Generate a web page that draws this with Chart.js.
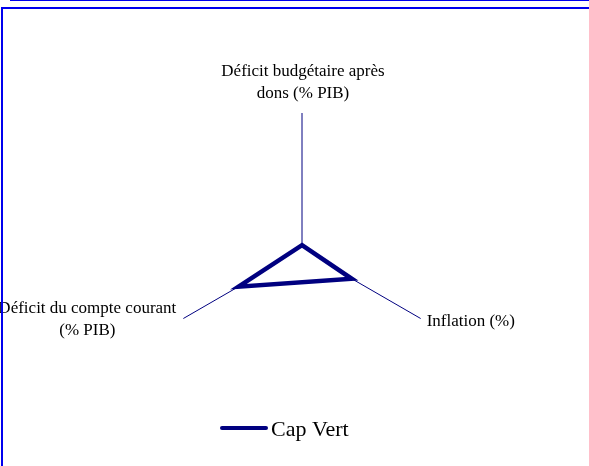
<!DOCTYPE html>
<html>
<head>
<meta charset="utf-8">
<script src="https://cdn.jsdelivr.net/npm/chart.js@4.4.1/dist/chart.umd.min.js"></script>
<style>
  html, body { margin: 0; padding: 0; background: #fff; overflow: hidden; }
  #wrap { position: relative; width: 589px; height: 466px; overflow: hidden; }
  #chart { position: absolute; left: 0; top: 0; }
  #topRule { position: absolute; left: 10px; top: 0; width: 600px; height: 1px; background: #0000ee; }
  #frame { position: absolute; left: 1px; top: 7px; width: 700px; height: 600px;
           border-left: 2px solid #0000ee; border-top: 2px solid #0000ee; pointer-events: none; }
</style>
</head>
<body>
<div id="wrap">
  <canvas id="chart" width="589" height="466"></canvas>
  <div id="topRule"></div>
  <div id="frame"></div>
</div>
<script>
// axes of the radar, clockwise from the top
const axisLabels = [
  ['Déficit budgétaire après', 'dons (% PIB)'],
  ['Inflation (%)'],
  ['Déficit du compte courant', '(% PIB)']
]
const seriesName = 'Cap Vert'
const capVert = [0.7, 8.4, 10.7]
const scaleMin = 0
const scaleMax = 20

const navy = '#000080'
const serif = '"Liberation Serif", "Times New Roman", serif'

// axis titles + legend drawn by hand, Excel style
const textPlugin = {
  id: 'excelText',
  afterDatasetsDraw(chart) {
    const ctx = chart.ctx
    const r = chart.scales.r
    ctx.save()
    ctx.fillStyle = '#000'
    ctx.font = '17px ' + serif
    chart.data.labels.forEach((lines, i) => {
      const p = r.getPointPosition(i, r.drawingArea)
      let x, y
      if (Math.abs(p.x - r.xCenter) < 1) {
        ctx.textAlign = 'center'
        x = p.x + 1
        y = p.y - 15 - 22 * (lines.length - 1)
      } else if (p.x > r.xCenter) {
        ctx.textAlign = 'left'
        x = p.x + 6
        y = p.y + 7
      } else {
        ctx.textAlign = 'center'
        x = p.x - 96
        y = p.y - 6
      }
      lines.forEach((t, k) => ctx.fillText(t, x, y + k * 22))
    })

    const ds = chart.data.datasets[0]
    ctx.strokeStyle = ds.borderColor
    ctx.lineWidth = 4
    ctx.lineCap = 'round'
    ctx.beginPath()
    ctx.moveTo(222, 428)
    ctx.lineTo(266, 428)
    ctx.stroke()
    ctx.font = '22px ' + serif
    ctx.textAlign = 'left'
    ctx.fillText(ds.label, 271, 436)
    ctx.restore()
  }
}

new Chart(document.getElementById('chart'), {
  type: 'radar',
  data: {
    labels: axisLabels,
    datasets: [{
      label: seriesName,
      data: capVert,
      borderColor: navy,
      borderWidth: 4.5,
      backgroundColor: '#ffffff',
      fill: true,
      pointRadius: 0,
      pointHoverRadius: 0,
      tension: 0
    }]
  },
  options: {
    responsive: false,
    devicePixelRatio: 1,
    animation: false,
    layout: { padding: { left: 165, right: 150, top: 113, bottom: 79 } },
    plugins: {
      legend: { display: false },
      tooltip: { enabled: false }
    },
    scales: {
      r: {
        min: scaleMin,
        max: scaleMax,
        grid: { display: false },
        ticks: { display: false },
        pointLabels: { display: false },
        angleLines: { color: navy, lineWidth: 1 }
      }
    }
  },
  plugins: [textPlugin]
})
</script>
</body>
</html>
